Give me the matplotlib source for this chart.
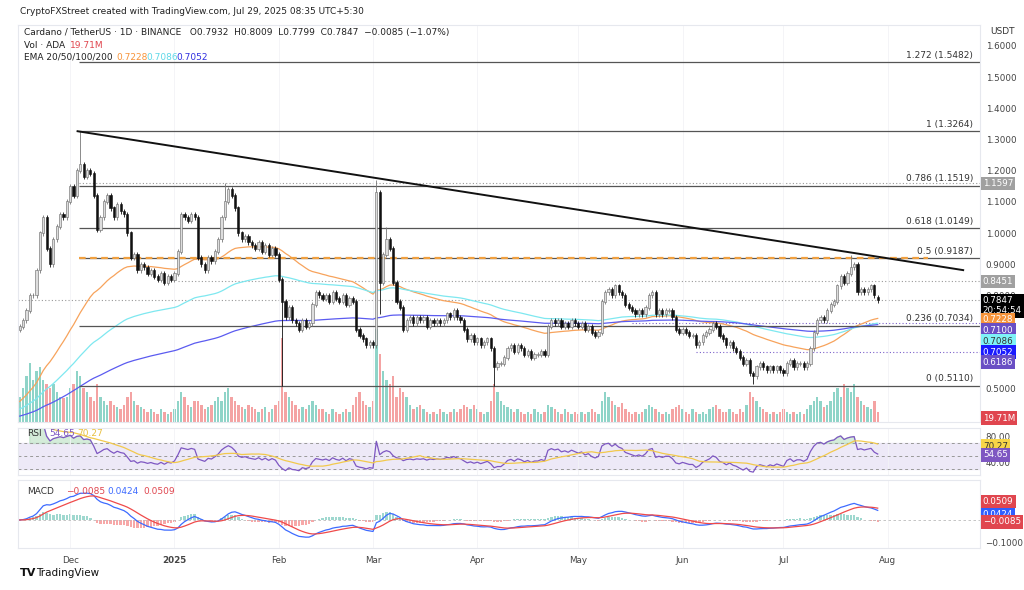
import numpy as np
import pandas as pd
import matplotlib
matplotlib.use("Agg")
import matplotlib.pyplot as plt

# ---------------- data ----------------
start_date = "2024-11-16"
closes = [
    0.70, 0.72, 0.75, 0.80, 0.80, 0.88, 1.00, 1.05, 0.95, 0.90,
    0.98, 1.02, 1.06, 1.05, 1.10, 1.15, 1.12, 1.20, 1.22, 1.18,
    1.20, 1.19, 1.12, 1.01, 1.05, 1.10, 1.12, 1.08, 1.05, 1.09,
    1.07, 1.06, 1.00, 0.92, 0.93, 0.88, 0.90, 0.89, 0.87, 0.88,
    0.86, 0.85, 0.87, 0.84, 0.86, 0.85, 0.87, 0.94, 1.06, 1.05,
    1.04, 1.06, 1.05, 0.92, 0.90, 0.88, 0.92, 0.91, 0.94, 0.98,
    1.05, 1.10, 1.14, 1.12, 1.08, 1.00, 0.98, 0.99, 0.97, 0.96,
    0.95, 0.97, 0.94, 0.96, 0.93, 0.95, 0.93, 0.85, 0.78, 0.73,
    0.76, 0.72, 0.71, 0.69, 0.72, 0.70, 0.71, 0.77, 0.81, 0.80,
    0.79, 0.80, 0.78, 0.81, 0.79, 0.78, 0.80, 0.77, 0.79, 0.78,
    0.69, 0.67, 0.66, 0.64, 0.65, 0.64, 1.13, 0.84, 0.93, 0.98,
    0.95, 0.84, 0.78, 0.76, 0.69, 0.72, 0.73, 0.71, 0.73, 0.72,
    0.73, 0.70, 0.72, 0.71, 0.72, 0.71, 0.72, 0.74, 0.73, 0.75,
    0.73, 0.72, 0.69, 0.66, 0.67, 0.65, 0.66, 0.64, 0.65, 0.66,
    0.63, 0.57, 0.58, 0.58, 0.60, 0.63, 0.64, 0.62, 0.64, 0.63,
    0.61, 0.62, 0.60, 0.61, 0.61, 0.62, 0.61, 0.70, 0.72, 0.71,
    0.72, 0.70, 0.71, 0.70, 0.72, 0.71, 0.70, 0.71, 0.69, 0.70,
    0.68, 0.67, 0.68, 0.78, 0.81, 0.82, 0.80, 0.83, 0.81, 0.80,
    0.77, 0.76, 0.75, 0.74, 0.75, 0.74, 0.76, 0.80, 0.81, 0.74,
    0.75, 0.74, 0.75, 0.75, 0.73, 0.69, 0.68, 0.69, 0.68, 0.67,
    0.67, 0.64, 0.65, 0.67, 0.68, 0.69, 0.71, 0.70, 0.67, 0.66,
    0.64, 0.65, 0.63, 0.62, 0.60, 0.58, 0.59, 0.55, 0.54, 0.57,
    0.58, 0.57, 0.56, 0.57, 0.56, 0.57, 0.56, 0.55, 0.58, 0.59,
    0.57, 0.58, 0.58, 0.57, 0.58, 0.63, 0.68, 0.72, 0.73, 0.72,
    0.75, 0.77, 0.78, 0.83, 0.86, 0.84, 0.87, 0.89, 0.90, 0.81,
    0.82, 0.81, 0.82, 0.83, 0.80, 0.7847,
]
first_open = 0.69
last_open = 0.7932
spike_highs = {18: 1.3264, 106: 1.17, 247: 0.93, 109: 1.02, 61: 1.16}
spike_lows = {78: 0.511, 141: 0.511, 218: 0.515, 107: 0.74}
volumes = [
    30, 40, 55, 70, 50, 60, 65, 50, 45, 40,
    45, 35, 30, 28, 30, 40, 45, 60, 55, 40,
    35, 30, 25, 45, 30, 25, 20, 25, 20, 18,
    15, 20, 30, 35, 25, 20, 18, 15, 12, 15,
    12, 10, 15, 12, 10, 12, 15, 25, 35, 30,
    20, 18, 25, 25, 20, 15, 18, 20, 25, 30,
    25, 35, 40, 30, 25, 20, 18, 15, 20, 18,
    15, 12, 15, 18, 12, 15, 20, 25, 100, 35,
    30, 25, 20, 15, 18, 15, 20, 25, 20, 15,
    15, 12, 10, 15, 12, 10, 12, 15, 12, 20,
    30, 35, 25, 20, 18, 25, 110, 80, 60, 50,
    45, 55, 30, 40, 35, 30, 20, 15, 18, 20,
    15, 12, 10, 12, 10, 15, 12, 10, 12, 15,
    12, 15, 20, 18, 15, 20, 15, 12, 10, 12,
    25, 45, 35, 25, 20, 18, 15, 12, 15, 12,
    10, 12, 10, 15, 12, 10, 12, 20, 18, 15,
    12, 10, 15, 12, 10, 12, 10, 12, 10, 12,
    15, 12, 10, 25, 35, 30, 25, 20, 18, 22,
    15, 12, 10, 12, 10, 12, 15, 20, 18, 15,
    12, 10, 12, 10, 15, 18, 20, 15, 12, 10,
    15, 12, 10, 12, 10, 15, 18, 20, 15, 12,
    12, 15, 12, 10, 15, 12, 20, 35, 30, 25,
    18, 15, 12, 10, 12, 10, 12, 15, 12, 10,
    12, 10, 12, 10, 15, 20, 25, 30, 25, 18,
    20, 25, 35, 40, 30, 45, 40, 35, 45, 30,
    25, 20, 18, 15, 25, 12,
]
ema_periods = [50, 100, 200]
ema_seeds = [0.45, 0.43, 0.41]
ema_colors = ["#f7a35c", "#7ee8f0", "#5b5bf0"]

fib_ratios = ["0", "0.236", "0.5", "0.618", "0.786", "1", "1.272"]
fib_prices = [0.5110, 0.7034, 0.9187, 1.0149, 1.1519, 1.3264, 1.5482]
fib_start_day = 17.5
trend_days = [17.2, 280.4]
trend_prices = [1.3264, 0.881]
dotted_levels = [(1.1597, 17.5, "#999999"), (0.8451, 47, "#999999"),
                 (0.7847, -1, "#999999"), (0.7100, 182, "#7b61c9"), (0.6186, 201, "#7b61c9")]
month_labels = ["Dec", "2025", "Feb", "Mar", "Apr", "May", "Jun", "Jul", "Aug"]
month_dates = ["2024-12-01", "2025-01-01", "2025-02-01", "2025-03-01", "2025-04-01",
               "2025-05-01", "2025-06-01", "2025-07-01", "2025-08-01"]
price_ticks = [0.5, 0.6, 0.7, 0.8, 0.9, 1.0, 1.1, 1.2, 1.3, 1.4, 1.5, 1.6]

# ---------------- derived ----------------
n = len(closes)
x = np.arange(n)
c = np.array(closes)
o = np.concatenate([[first_open], c[:-1]])
o[-1] = last_open
hi = np.maximum(o, c) + 0.008
lo = np.minimum(o, c) - 0.008
for k, v in spike_highs.items():
    hi[k] = v
for k, v in spike_lows.items():
    lo[k] = v
up = c >= o

emas = []
for p, s in zip(ema_periods, ema_seeds):
    a = 2 / (p + 1)
    e, out = s, []
    for v in c:
        e = e + a * (v - e)
        out.append(e)
    emas.append(np.array(out))

cs = pd.Series(c)
d = cs.diff()
gain = d.clip(lower=0).ewm(alpha=1/14, adjust=False).mean()
loss = (-d.clip(upper=0)).ewm(alpha=1/14, adjust=False).mean()
rsi = 100 - 100 / (1 + gain / loss)
rsi[:3] = np.nan
rsi_ma = rsi.rolling(14, min_periods=1).mean()
macd = cs.ewm(span=12, adjust=False).mean() - cs.ewm(span=26, adjust=False).mean()
signal = macd.ewm(span=9, adjust=False).mean()
hist = macd - signal

t0 = pd.Timestamp(start_date)
month_x = [(pd.Timestamp(m) - t0).days for m in month_dates]

# ---------------- figure ----------------
W, H = 1024, 590
fig = plt.figure(figsize=(W/100, H/100), dpi=100)

def rect(l, t, r, b):
    return [l / W, 1 - b / H, (r - l) / W, (b - t) / H]

L, R = 18, 980
XL = (-0.5, 285.4)
ax = fig.add_axes(rect(L, 25, R, 422))
axr = fig.add_axes(rect(L, 428, R, 475))
axm = fig.add_axes(rect(L, 480, R, 548))

# volume (behind price)
axv = ax.twinx()
axv.set_ylim(0, 470)
axv.set_yticks([])
for s in axv.spines.values():
    s.set_visible(False)
axv.bar(x, volumes, width=0.7, color=np.where(up, "#8fd4c8", "#f4a3a3"))
ax.set_zorder(axv.get_zorder() + 1)
ax.patch.set_visible(False)

gridc = "#e6e8ee"
for a in (ax, axr, axm):
    a.set_xlim(*XL)
    for s in a.spines.values():
        s.set_color(gridc)
    a.tick_params(length=0, labelsize=6.3, colors="#444444")
    a.set_xticks(month_x)
    a.grid(axis="x", color="#f2f3f6", lw=0.6)
    a.yaxis.tick_right()
    a.yaxis.set_label_position("right")
    a.tick_params(axis="y", which="both", left=False, labelleft=False,
                  right=False, labelright=True, pad=4)

ax.set_ylim(0.394, 1.667)
ax.set_yticks(price_ticks)
ax.set_yticklabels([f"{p:.4f}" for p in price_ticks])
ax.set_xticklabels([])

# candles
ax.vlines(x, lo, hi, color=np.where(up, "#777777", "#111111"), lw=0.6, zorder=3)
ax.bar(x, np.abs(c - o) + 0.002, bottom=np.minimum(o, c), width=0.65,
       color=np.where(up, "#dddddd", "#111111"), edgecolor=np.where(up, "#666666", "#111111"),
       linewidth=0.4, zorder=4)
for e, col in zip(emas, ema_colors):
    ax.plot(x, e, color=col, lw=0.9, zorder=2)

# fib lines
for r_, p in zip(fib_ratios, fib_prices):
    ax.hlines(p, fib_start_day, XL[1], color="#555555", lw=0.9, zorder=2)
    ax.text(XL[1] - 2, p + 0.008, f"{r_} ({p:.4f})", ha="right", va="bottom",
            fontsize=6.5, color="#333333")
ax.hlines(fib_prices[2], fib_start_day, 270, color="#f0a040", lw=1.6, ls=(0, (3, 2)), zorder=2)
for p, s, col in dotted_levels:
    ax.hlines(p, max(s, XL[0]), XL[1], color=col, lw=0.8, ls=(0, (1, 2)), zorder=1)
ax.plot(trend_days, trend_prices, color="#111111", lw=1.4, zorder=5)

def badge(a, y, text, fc, tc="white", dy=0):
    a.annotate(text, xy=(1, y), xycoords=("axes fraction", "data"), xytext=(2, dy),
               textcoords="offset points", va="center", ha="left", fontsize=6.3,
               color=tc, bbox=dict(boxstyle="square,pad=0.25", fc=fc, ec="none"),
               annotation_clip=False, zorder=10)

badge(ax, 1.1597, "1.1597", "#a0a0a0")
badge(ax, 0.8451, "0.8451", "#a0a0a0")
badge(ax, 0.7847, "0.7847\n20:54:54", "#000000", dy=-4)
badge(ax, 0.7228, "0.7228", "#f7943a")
badge(ax, 0.7100, "0.7100", "#6a4fc4", dy=-4.8)
badge(ax, 0.7086, "0.7086", "#7ef2f7", tc="#333333", dy=-12.4)
badge(ax, 0.7052, "0.7052", "#1a1aff", dy=-19.5)
badge(ax, 0.6186, "0.6186", "#6a4fc4", dy=-7.3)
badge(ax, 0.3975, "19.71M", "#e0464f", dy=2)

# RSI
axr.set_ylim(21.5, 93.8)
axr.axhspan(30, 70, color="#ede9f7", zorder=0)
for lv in (30, 50, 70):
    axr.axhline(lv, color="#999999", lw=0.7, ls=(0, (3, 3)))
axr.plot(x, rsi, color="#7e57c2", lw=0.9)
axr.plot(x, rsi_ma, color="#f2c94c", lw=0.9)
axr.fill_between(x, 70, rsi, where=rsi > 70, color="#b8e0c0", alpha=0.6, interpolate=True)
axr.set_yticks([40, 80])
axr.set_yticklabels(["40.00", "80.00"])
axr.set_xticklabels([])
badge(axr, 70.27, "70.27", "#f7d548", tc="#333333", dy=-2)
badge(axr, 54.65, "54.65", "#7e57c2", dy=-1)
axr.text(0.01, 0.82, "RSI", transform=axr.transAxes, fontsize=6.5, color="#333333")
axr.text(0.032, 0.82, "54.65", transform=axr.transAxes, fontsize=6.5, color="#7e57c2")
axr.text(0.062, 0.82, "70.27", transform=axr.transAxes, fontsize=6.5, color="#e8c040")

# MACD
axm.set_ylim(-0.122, 0.174)
axm.bar(x, hist, width=0.7,
        color=np.where(hist >= 0, "#9fd8cf", "#f7a8a8"), zorder=1)
axm.axhline(0, color="#bbbbbb", lw=0.6, ls=(0, (3, 3)))
axm.plot(x, macd, color="#3d6bff", lw=0.9)
axm.plot(x, signal, color="#ef4a4a", lw=0.9)
axm.set_yticks([-0.1])
axm.set_yticklabels(["\u22120.1000"])
axm.set_xticklabels(month_labels)
for lab in axm.get_xticklabels():
    if lab.get_text() == "2025":
        lab.set_fontweight("bold")
axm.tick_params(axis="x", pad=6)
badge(axm, 0.0509, "0.0509", "#e0464f", dy=5)
badge(axm, 0.0424, "0.0424", "#2f5fff", dy=-3)
badge(axm, -0.0085, "\u22120.0085", "#e0464f", dy=0)
axm.text(0.01, 0.8, "MACD", transform=axm.transAxes, fontsize=6.5, color="#333333")
axm.text(0.05, 0.8, "\u22120.0085", transform=axm.transAxes, fontsize=6.5, color="#e0464f")
axm.text(0.093, 0.8, "0.0424", transform=axm.transAxes, fontsize=6.5, color="#3d6bff")
axm.text(0.13, 0.8, "0.0509", transform=axm.transAxes, fontsize=6.5, color="#e0464f")

# header texts
fig.text(20 / W, 1 - 12 / H, "CryptoFXStreet created with TradingView.com, Jul 29, 2025 08:35 UTC+5:30",
         fontsize=6.5, color="#222222", va="center")
fig.text(24 / W, 1 - 33 / H,
         "Cardano / TetherUS \u00b7 1D \u00b7 BINANCE   O0.7932  H0.8009  L0.7799  C0.7847  \u22120.0085 (\u22121.07%)",
         fontsize=6.5, color="#222222", va="center")
fig.text(24 / W, 1 - 45 / H, "Vol \u00b7 ADA", fontsize=6.5, color="#222222", va="center")
fig.text(70 / W, 1 - 45 / H, "19.71M", fontsize=6.5, color="#e0464f", va="center")
fig.text(24 / W, 1 - 57 / H, "EMA 20/50/100/200", fontsize=6.5, color="#222222", va="center")
fig.text(116 / W, 1 - 57 / H, "0.7228", fontsize=6.5, color="#f7943a", va="center")
fig.text(146 / W, 1 - 57 / H, "0.7086", fontsize=6.5, color="#5fd8e8", va="center")
fig.text(176 / W, 1 - 57 / H, "0.7052", fontsize=6.5, color="#3030e0", va="center")
fig.text(990 / W, 1 - 32 / H, "USDT", fontsize=6.5, color="#333333", va="center")
fig.text(20 / W, 1 - 573 / H, "TV", fontsize=8, fontweight="bold", color="#111111", va="center")
fig.text(36 / W, 1 - 573 / H, "TradingView", fontsize=7.5, color="#111111", va="center")

fig.savefig("out.png", dpi=100, facecolor="white")
